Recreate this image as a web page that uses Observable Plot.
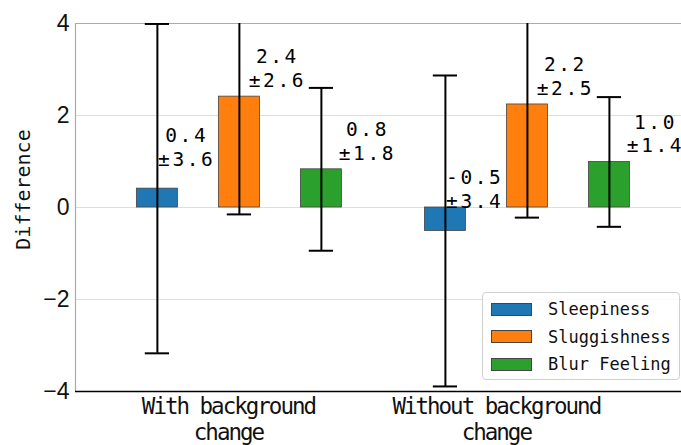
<!DOCTYPE html>
<html>
<head>
<meta charset="utf-8">
<script src="https://cdn.jsdelivr.net/npm/d3@7"></script>
<script src="https://cdn.jsdelivr.net/npm/@observablehq/plot@0.6"></script>
<style>
  body { margin: 0; background: white; }
  #wrap { position: relative; width: 681px; height: 445px; }
  g[aria-label="x-axis tick label"] text { letter-spacing: -2px; }
  #legend {
    position: absolute; left: 482px; top: 292px; width: 196px; height: 86px;
    border: 1px solid #d0d0d0; border-radius: 4px; background: rgba(255,255,255,0.85);
    font-family: "DejaVu Sans Mono", monospace; font-size: 17px; color: #111;
  }
  .row { position: absolute; left: 8px; height: 20px; display: flex; align-items: center; }
  .sw { width: 41px; height: 13px; border: 0.8px solid #444; box-sizing: border-box; margin-right: 16px; }
</style>
</head>
<body>
<div id="wrap"></div>
<script>
// ---- data ----
const groups = ["With background\nchange", "Without background\nchange"];
const series = ["Sleepiness", "Sluggishness", "Blur Feeling"];
const colors = ["#1f77b4", "#ff7f0e", "#2ca02c"];
const meanWith = [0.41, 2.41, 0.83];
const sdWith = [3.58, 2.56, 1.77];
const meanWithout = [-0.51, 2.24, 0.99];
const sdWithout = [3.38, 2.46, 1.41];
const yTicks = [-4, -2, 0, 2, 4];

// ---- layout constants ----
const barStep = 0.2847, barW = 0.1424, capHalf = 0.042;
const xDomain = [-0.569, 1.535];
const labelShift = [0.102, 0.132, 0.160];   // label x offset from bar centre per series
const labelLift = [0.50, 0.21, 0.21];       // label baseline lift above mean per series
const tickX = [-0.038, 0.892];              // category label positions

const means = [meanWith, meanWithout];
const sds = [sdWith, sdWithout];
const rows = [];
groups.forEach((g, gi) => series.forEach((s, si) => {
  const m = means[gi][si], sd = sds[gi][si];
  const xc = gi + (si - 1) * barStep;
  rows.push({
    group: g, series: s, mean: m, sd, xc,
    x1: xc - barW / 2, x2: xc + barW / 2,
    label: m.toFixed(1) + "\n±" + sd.toFixed(1),
    lx: xc + labelShift[si], ly: m + labelLift[si]
  });
}));
const tickLabel = new Map(tickX.map((t, i) => [t, groups[i]]));

const plot = Plot.plot({
  width: 681, height: 445,
  marginLeft: 75, marginRight: 0, marginTop: 23, marginBottom: 54,
  x: {type: "linear", domain: xDomain, axis: null},
  y: {domain: [-4, 4], axis: null},
  color: {domain: series, range: colors},
  marks: [
    Plot.ruleY(yTicks.slice(1, -1), {stroke: "#dedede", strokeWidth: 1}),
    Plot.ruleY([yTicks[yTicks.length - 1]], {stroke: "#aaa", strokeWidth: 1}),
    Plot.ruleX([xDomain[0]], {stroke: "#aaa", strokeWidth: 1.2}),
    Plot.rect(rows, {x1: "x1", x2: "x2", y1: 0, y2: "mean", fill: "series", stroke: "#444", strokeWidth: 0.8}),
    Plot.ruleX(rows, {x: "xc", y1: d => d.mean - d.sd, y2: d => d.mean + d.sd, stroke: "black", strokeWidth: 2, clip: true}),
    Plot.ruleY(rows, {y: d => d.mean + d.sd, x1: d => d.xc - capHalf, x2: d => d.xc + capHalf, stroke: "black", strokeWidth: 2, clip: true}),
    Plot.ruleY(rows, {y: d => d.mean - d.sd, x1: d => d.xc - capHalf, x2: d => d.xc + capHalf, stroke: "black", strokeWidth: 2, clip: true}),
    Plot.text(rows, {x: "lx", y: "ly", text: "label", lineAnchor: "bottom", textAnchor: "middle",
      fontFamily: "DejaVu Sans Mono", fontSize: 19.5, lineHeight: 1.22, fill: "black"}),
    Plot.axisY({ticks: yTicks, tickSize: 0, tickPadding: 6, fontSize: 23, fontFamily: "Liberation Sans", fill: "#111"}),
    Plot.axisX({ticks: tickX, tickFormat: d => tickLabel.get(d), tickSize: 0, tickPadding: 5, fontSize: 22.5,
      fontFamily: "DejaVu Sans Mono", lineHeight: 1.12, fill: "#111", label: null}),
    Plot.ruleY([yTicks[0]], {stroke: "black", strokeWidth: 1.5}),
    Plot.text(["Difference"], {frameAnchor: "left", dx: -52, dy: -18, rotate: -90, textAnchor: "middle",
      fontFamily: "DejaVu Sans Mono", fontSize: 20, fill: "#111"})
  ]
});
const wrap = document.getElementById("wrap");
wrap.appendChild(plot);
// widen the spacing of the value labels (first plain text mark)
const valueGroup = plot.querySelector('g[aria-label="text"]');
if (valueGroup) valueGroup.style.letterSpacing = "2.6px";

const legend = document.createElement("div");
legend.id = "legend";
series.forEach((s, i) => {
  const row = document.createElement("div");
  row.className = "row";
  row.style.top = (6 + i * 27.5) + "px";
  const sw = document.createElement("div");
  sw.className = "sw";
  sw.style.background = colors[i];
  const t = document.createElement("span");
  t.textContent = s;
  row.appendChild(sw); row.appendChild(t);
  legend.appendChild(row);
});
wrap.appendChild(legend);
</script>
</body>
</html>
